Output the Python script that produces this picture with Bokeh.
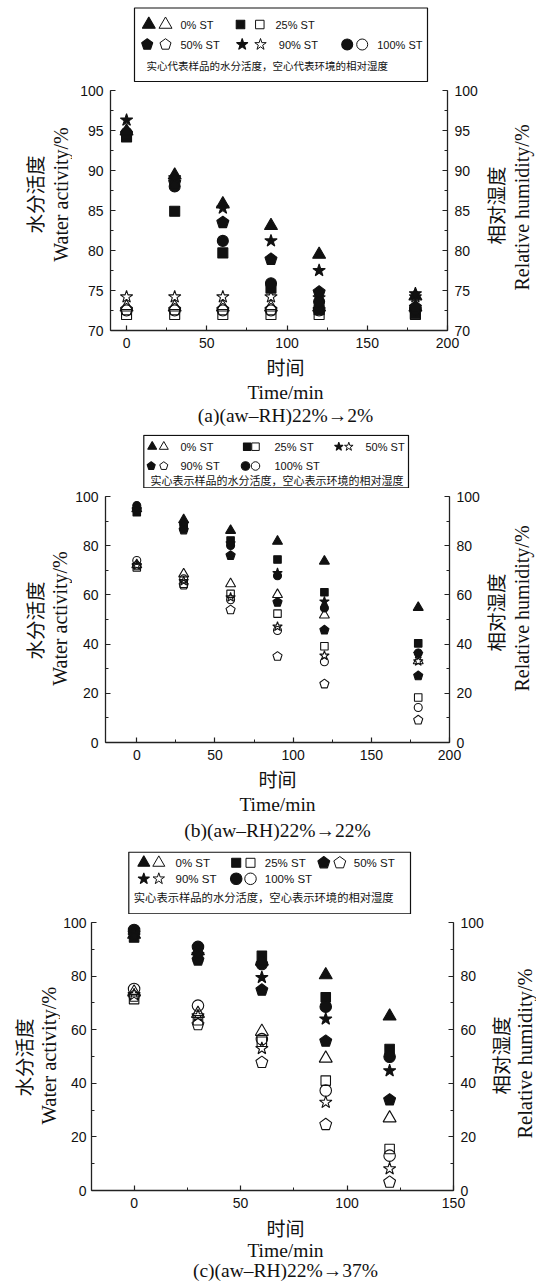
import math
from bokeh.plotting import figure
from bokeh.models import Range1d, LinearAxis, SingleIntervalTicker
from bokeh.layouts import row
from bokeh.embed import file_html
from bokeh.resources import INLINE
from bokeh.core.properties import value

# ------------------------------------------------------------------ data
st_labels = ["0% ST", "25% ST", "50% ST", "90% ST", "100% ST"]
note_a = "实心代表样品的水分活度，空心代表环境的相对湿度"
note_bc = "实心表示样品的水分活度，空心表示环境的相对湿度"
x_title_cn = "时间"
x_title_en = "Time/min"
y_left_cn = "水分活度"
y_left_en = "Water activity/%"
y_right_cn = "相对湿度"
y_right_en = "Relative humidity/%"
caption_a = "(a)(aw–RH)22%→2%"
caption_b = "(b)(aw–RH)22%→22%"
caption_c = "(c)(aw–RH)22%→37%"

# panel (a)  22% -> 2%
time_a = [0, 30, 60, 90, 120, 180]
a_aw_st0 = [94.9, 89.4, 85.8, 83.1, 79.5, 74.3]
a_aw_st25 = [94.2, 84.9, 79.7, 75.3, 72.6, 72.1]
a_aw_st50 = [94.6, 88.5, 83.5, 78.9, 74.8, 72.9]
a_aw_st90 = [96.3, 89.1, 85.3, 81.2, 77.5, 74.6]
a_aw_st100 = [94.7, 88.0, 81.2, 75.9, 73.6, 72.6]
a_rh_st0 = [72.9, 72.9, 72.9, 72.9, 72.9, 72.9]
a_rh_st25 = [72.0, 72.0, 72.0, 72.0, 72.0, 72.0]
a_rh_st50 = [72.6, 72.6, 72.6, 72.6, 72.6, 72.6]
a_rh_st90 = [74.2, 74.2, 74.2, 74.2, 74.1, 74.2]
a_rh_st100 = [72.5, 72.5, 72.5, 72.5, 72.5, 72.5]

# panel (b)  22% -> 22%   (star = 50% ST, pentagon = 90% ST)
time_b = [0, 30, 60, 90, 120, 180]
b_aw_st0 = [95.0, 90.5, 86.2, 81.8, 73.7, 54.9]
b_aw_st25 = [93.6, 87.5, 82.1, 74.4, 61.1, 40.3]
b_aw_st50 = [95.0, 89.0, 81.0, 68.9, 57.3, 36.0]
b_aw_st90 = [94.5, 86.4, 76.0, 57.0, 45.7, 27.1]
b_aw_st100 = [96.3, 88.9, 80.1, 67.8, 54.7, 36.4]
b_rh_st0 = [72.2, 68.5, 64.5, 60.1, 51.8, 33.2]
b_rh_st25 = [71.2, 64.5, 60.4, 52.4, 39.1, 18.3]
b_rh_st50 = [72.0, 65.6, 59.0, 47.1, 35.3, 33.0]
b_rh_st90 = [72.0, 64.0, 53.9, 35.0, 23.8, 9.1]
b_rh_st100 = [74.0, 66.5, 58.0, 45.5, 32.8, 14.2]

# panel (c)  22% -> 37%
time_c = [0, 30, 60, 90, 120]
c_aw_st0 = [95.5, 89.4, 85.5, 80.4, 65.0]
c_aw_st25 = [94.4, 87.0, 87.6, 72.1, 52.8]
c_aw_st50 = [96.0, 86.0, 74.8, 55.7, 33.8]
c_aw_st90 = [95.0, 88.0, 79.5, 64.0, 44.7]
c_aw_st100 = [97.2, 90.9, 84.5, 68.6, 49.9]
c_rh_st0 = [74.0, 66.0, 59.3, 49.3, 27.0]
c_rh_st25 = [71.4, 63.5, 55.5, 41.0, 15.5]
c_rh_st50 = [72.5, 61.9, 47.8, 24.6, 3.1]
c_rh_st90 = [73.1, 65.2, 53.0, 32.9, 8.1]
c_rh_st100 = [75.2, 69.0, 56.5, 37.3, 13.0]

# ------------------------------------------------------------------ style
PAGE_W = 536
SANS = "Liberation Sans"
SERIF = "Liberation Serif"
CJK = "Noto Sans CJK SC"
INK = "#111111"
TOP_B = 8      # border above each plot frame
BOT_B = 24     # border below each plot frame


def pentagon_outlines(xs, ys, r_px, sx, sy):
    """Regular pentagons (point up) of screen radius r_px around each point;
    sx, sy = data units per screen pixel."""
    px, py = [], []
    for x0, y0 in zip(xs, ys):
        ang = [math.pi / 2 + 2 * math.pi * k / 5 for k in range(5)]
        px.append([x0 + r_px * math.cos(a) * sx for a in ang])
        py.append([y0 + r_px * math.sin(a) * sy for a in ang])
    return px, py


def draw(p, kind, xs, ys, size, filled, lw=1.1, sx=1.0, sy=1.0):
    fc = INK if filled else None
    if kind == "pentagon":
        pxs, pys = pentagon_outlines(xs, ys, size / 2.0, sx, sy)
        p.patches(xs=pxs, ys=pys, fill_color=fc, line_color=INK, line_width=lw)
    else:
        p.scatter(x=xs, y=ys, marker=kind, size=size, fill_color=fc,
                  line_color=INK, line_width=lw)


def blank_fig(w, h, xr, yr, top=0, bottom=0):
    q = figure(width=w, height=h, x_range=Range1d(*xr), y_range=Range1d(*yr),
               x_axis_type=None, y_axis_type=None, output_backend="svg",
               toolbar_location=None, min_border_left=0, min_border_right=0,
               min_border_top=top, min_border_bottom=bottom)
    q.outline_line_color = None
    return q


def legend_fig(top, bottom, box, rows, note, note_xy, msize, fs_label, fs_note):
    h = bottom - top
    q = blank_fig(PAGE_W, h, (0, PAGE_W), (0, h))
    Y = lambda py: h - (py - top)
    bl, bt, br, bb = box
    q.quad(left=[bl], right=[br], top=[Y(bt)], bottom=[Y(bb)],
           fill_color=None, line_color=INK, line_width=1.2)
    for kind, xf, xo, yr_, label, xl in rows:
        draw(q, kind, [xf], [Y(yr_)], msize[kind], True)
        draw(q, kind, [xo], [Y(yr_)], msize[kind], False, lw=1.0)
        q.text(x=[xl], y=[Y(yr_)], text=[label], text_font=value(SANS),
               text_font_size=value(fs_label), text_color=INK,
               text_align="left", text_baseline="middle")
    q.text(x=[note_xy[0]], y=[Y(note_xy[1])], text=[note], text_font=value(CJK),
           text_font_size=value(fs_note), text_color=INK,
           text_align="left", text_baseline="middle")
    return q


def text_fig(top, bottom, xc, y_cn, y_en, y_cap, caption):
    h = bottom - top
    q = blank_fig(PAGE_W, h, (0, PAGE_W), (0, h))
    Y = lambda py: h - (py - top)
    q.text(x=[xc], y=[Y(y_cn)], text=[x_title_cn], text_font=value(CJK),
           text_font_size=value("19px"), text_color=INK, text_align="center",
           text_baseline="middle")
    q.text(x=[xc], y=[Y(y_en)], text=[x_title_en], text_font=value(SERIF),
           text_font_size=value("19.5px"), text_color=INK, text_align="center",
           text_baseline="middle")
    q.text(x=[xc], y=[Y(y_cap)], text=[caption], text_font=value(SERIF),
           text_font_size=value("19.5px"), text_color=INK, text_align="center",
           text_baseline="middle")
    return q


def side_fig(x0, x1, fig_h, frame_top, frame_bottom, titles):
    """Narrow strip beside a plot holding the rotated y-axis titles."""
    fh = frame_bottom - frame_top
    q = blank_fig(x1 - x0, fig_h, (x0, x1), (0, fh), top=TOP_B, bottom=BOT_B)
    for text, px, py, font, size in titles:
        q.text(x=[px], y=[frame_bottom - py], text=[text], angle=math.pi / 2,
               text_font=value(font), text_font_size=value(size), text_color=INK,
               text_align="center", text_baseline="middle")
    return q


def style_axis(ax, ticker, standoff=7):
    ax.ticker = ticker
    ax.axis_line_color = "#222222"
    ax.axis_line_width = 1.3
    ax.major_tick_in = 5
    ax.major_tick_out = 0
    ax.minor_tick_in = 3
    ax.minor_tick_out = 0
    ax.major_tick_line_color = "#222222"
    ax.minor_tick_line_color = "#222222"
    ax.major_tick_line_width = 1.2
    ax.minor_tick_line_width = 1.0
    ax.major_label_text_font = SANS
    ax.major_label_text_font_size = "14px"
    ax.major_label_text_color = INK
    ax.major_label_standoff = standoff


def panel(fig_top, frame_top, frame_bottom, frame_left, frame_right, split_l, split_r,
          xr, yr, xstep, ystep, series, msize, left_titles, right_titles, ystand=7):
    h = frame_bottom - fig_top + BOT_B
    p = figure(width=split_r - split_l, height=h, x_range=Range1d(*xr), y_range=Range1d(*yr),
               output_backend="svg", toolbar_location=None,
               min_border_left=frame_left - split_l, min_border_right=split_r - frame_right,
               min_border_top=frame_top - fig_top, min_border_bottom=BOT_B)
    p.outline_line_color = None
    p.xgrid.visible = False
    p.ygrid.visible = False
    style_axis(p.xaxis[0], SingleIntervalTicker(interval=xstep, num_minor_ticks=2))
    style_axis(p.yaxis[0], SingleIntervalTicker(interval=ystep, num_minor_ticks=2), ystand)
    right = LinearAxis()
    style_axis(right, SingleIntervalTicker(interval=ystep, num_minor_ticks=2))
    p.add_layout(right, "right")

    sx = (xr[1] - xr[0]) / (frame_right - frame_left)
    sy = (yr[1] - yr[0]) / (frame_bottom - frame_top)
    # open symbols first, filled symbols on top
    for kind, t, aw, rh in series:
        draw(p, kind, t, rh, msize[kind], False, sx=sx, sy=sy)
    for kind, t, aw, rh in series:
        draw(p, kind, t, aw, msize[kind], True, sx=sx, sy=sy)

    lf = side_fig(0, split_l, h, frame_top, frame_bottom, left_titles)
    rf = side_fig(split_r, PAGE_W, h, frame_top, frame_bottom, right_titles)
    return row(lf, p, rf, spacing=0)


# ------------------------------------------------------------------ panel (a)
leg_a = legend_fig(
    0, 82, (134, 7.5, 427, 81),
    [("triangle", 148.3, 165, 24, st_labels[0], 180),
     ("square", 240, 259.3, 24, st_labels[1], 275),
     ("pentagon", 146.7, 165, 44, st_labels[2], 180),
     ("star", 241.7, 260, 44, st_labels[3], 278.3),
     ("circle", 346.7, 361.7, 44, st_labels[4], 376.7)],
    note_a, (146, 65),
    {"triangle": 13, "square": 8.5, "pentagon": 11.6, "star": 12, "circle": 11},
    "11px", "10.5px")

series_a = [("square", time_a, a_aw_st25, a_rh_st25),
            ("circle", time_a, a_aw_st100, a_rh_st100),
            ("pentagon", time_a, a_aw_st50, a_rh_st50),
            ("triangle", time_a, a_aw_st0, a_rh_st0),
            ("star", time_a, a_aw_st90, a_rh_st90)]
plot_a = panel(82, 90, 330, 110, 447, 72, 482, (-10, 200), (70, 100), 50, 5, series_a,
               {"triangle": 13, "square": 10, "pentagon": 12.6, "star": 13, "circle": 11},
               [(y_left_cn, 34, 194, CJK, "19.5px"), (y_left_en, 60, 194, SERIF, "20px")],
               [(y_right_cn, 495, 205, CJK, "19.5px"), (y_right_en, 521, 207, SERIF, "20px")])
txt_a = text_fig(354, 434, 285, 365.7, 391.7, 415, caption_a)

# ------------------------------------------------------------------ panel (b)
leg_b = legend_fig(
    434, 488, (143.3, 434.8, 408, 487.4),
    [("triangle", 151.7, 163.3, 446.2, st_labels[0], 180),
     ("square", 246.7, 255, 446.2, st_labels[1], 274),
     ("star", 338.3, 348.3, 446.2, st_labels[2], 365),
     ("pentagon", 150.7, 163.3, 465.5, st_labels[3], 180),
     ("circle", 245, 255, 465.5, st_labels[4], 274)],
    note_bc, (150, 479.6),
    {"triangle": 9, "square": 7.5, "pentagon": 8.5, "star": 9, "circle": 8.5},
    "11px", "11px")

series_b = [("square", time_b, b_aw_st25, b_rh_st25),
            ("circle", time_b, b_aw_st100, b_rh_st100),
            ("pentagon", time_b, b_aw_st90, b_rh_st90),
            ("triangle", time_b, b_aw_st0, b_rh_st0),
            ("star", time_b, b_aw_st50, b_rh_st50)]
plot_b = panel(488, 496, 742, 105, 449, 72, 482, (-20, 200), (0, 100), 50, 20, series_b,
               {"triangle": 10, "square": 7.5, "pentagon": 9.6, "star": 10, "circle": 8},
               [(y_left_cn, 34, 620, CJK, "19.5px"), (y_left_en, 59, 618, SERIF, "20px")],
               [(y_right_cn, 495, 612, CJK, "19.5px"), (y_right_en, 521, 608, SERIF, "20px")])
txt_b = text_fig(766, 851, 277, 777.8, 804, 830, caption_b)

# ------------------------------------------------------------------ panel (c)
leg_c = legend_fig(
    851, 914, (128.3, 851.6, 410, 913.4),
    [("triangle", 143.3, 158.3, 862.3, st_labels[0], 175),
     ("square", 235.7, 250, 862.3, st_labels[1], 264.3),
     ("pentagon", 323.3, 339.3, 862.3, st_labels[2], 353.3),
     ("star", 143.3, 158.3, 878.3, st_labels[3], 175),
     ("circle", 235.7, 250, 878.3, st_labels[4], 264.3)],
    note_bc, (133.3, 896.7),
    {"triangle": 12, "square": 9, "pentagon": 12.5, "star": 12, "circle": 11.5},
    "11.5px", "11.3px")

series_c = [("square", time_c, c_aw_st25, c_rh_st25),
            ("circle", time_c, c_aw_st100, c_rh_st100),
            ("pentagon", time_c, c_aw_st50, c_rh_st50),
            ("triangle", time_c, c_aw_st0, c_rh_st0),
            ("star", time_c, c_aw_st90, c_rh_st90)]
plot_c = panel(914, 922, 1190, 89, 454, 60, 486, (-20, 150), (0, 100), 50, 20, series_c,
               {"triangle": 13, "square": 9.5, "pentagon": 12.6, "star": 13, "circle": 11.5},
               [(y_left_cn, 23, 1057, CJK, "19.5px"), (y_left_en, 48.5, 1055, SERIF, "20.5px")],
               [(y_right_cn, 500, 1055, CJK, "19.5px"), (y_right_en, 524, 1053, SERIF, "20.5px")],
               ystand=5)
txt_c = text_fig(1214, 1282, 285, 1226.5, 1249.5, 1270, caption_c)

roots = [leg_a, plot_a, txt_a, leg_b, plot_b, txt_b, leg_c, plot_c, txt_c]
open("out.html", "w").write(file_html(roots, INLINE))
